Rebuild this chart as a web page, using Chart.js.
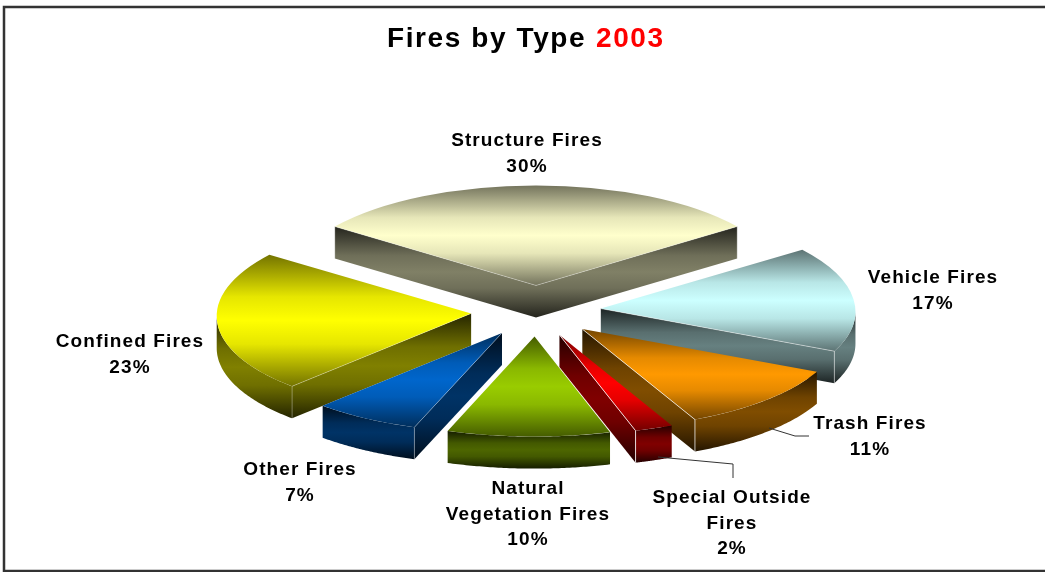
<!DOCTYPE html>
<html>
<head>
<meta charset="utf-8">
<title>Fires by Type 2003</title>
<script src="https://cdn.jsdelivr.net/npm/chart.js@4"></script>
<style>
  html, body { margin: 0; padding: 0; background: #fff; }
  #wrap { position: relative; width: 1045px; height: 572px; overflow: hidden; }
</style>
</head>
<body>
<div id="wrap"><canvas id="myChart" width="1045" height="572"></canvas></div>
<script>
const categories = ['Structure Fires', 'Vehicle Fires', 'Trash Fires', 'Special Outside Fires', 'Natural Vegetation Fires', 'Other Fires', 'Confined Fires'];
const shares = [30, 17, 11, 2.36, 10, 6.64, 23];
const sliceColors = ['#FFFFCC', '#CCFFFF', '#FF9900', '#FF0000', '#99CC00', '#0066CC', '#FFFF00'];
const edgeAlpha = [0.3, 0.45, 0.7, 0.8, 0, 0.3, 0.3];
const labelLines = [
    ['Structure Fires'],
    ['Vehicle Fires'],
    ['Trash Fires'],
    ['Special Outside', 'Fires'],
    ['Natural', 'Vegetation Fires'],
    ['Other Fires'],
    ['Confined Fires']
];
// centre x and first baseline of every label
const labelAnchors = [[527, 146], [933, 283], [870, 429], [732, 503], [528, 494], [300, 475], [130, 347]];
const leaderLines = [
    [[769, 428], [795, 436], [809, 436]],
    [[658, 457], [733, 464], [733, 478]]
];

// pie geometry
const cx = 536, cy = 311, radius = 250, tilt = 0.4, depth = 32, explode = 64;
const lineGap = 25.5;

// flat pie coordinates to screen, nearer things a little wider
function project(x, y) {
    return [cx + x * (1.018 + 0.00011 * y), cy + y * tilt];
}

// one slice as an affine map: goes through its tip and both outer corners
function sliceGeom(i) {
    const before = shares.slice(0, i).reduce((s, v) => s + v, 0);
    const a0 = (before / 100) * 2 * Math.PI - 0.8 * Math.PI;
    const a1 = a0 + (shares[i] / 100) * 2 * Math.PI;
    const mid = (a0 + a1) / 2;
    const ex = Math.cos(mid) * explode, ey = Math.sin(mid) * explode;
    const tip = project(ex, ey);
    const c0 = project(ex + radius * Math.cos(a0), ey + radius * Math.sin(a0));
    const c1 = project(ex + radius * Math.cos(a1), ey + radius * Math.sin(a1));
    const v0 = [c0[0] - tip[0], c0[1] - tip[1]], v1 = [c1[0] - tip[0], c1[1] - tip[1]];
    const u0 = [Math.cos(a0), Math.sin(a0)], u1 = [Math.cos(a1), Math.sin(a1)];
    const det = u0[0] * u1[1] - u1[0] * u0[1];
    const a = (v0[0] * u1[1] - v1[0] * u0[1]) / det;
    const c = (v1[0] * u0[0] - v0[0] * u1[0]) / det;
    const b = (v0[1] * u1[1] - v1[1] * u0[1]) / det;
    const d = (v1[1] * u0[0] - v0[1] * u1[0]) / det;
    const pt = t => [tip[0] + a * Math.cos(t) + c * Math.sin(t), tip[1] + b * Math.cos(t) + d * Math.sin(t)];
    return { a0, a1, tip, a, b, c, d, pt };
}

function shade(hex, f) {
    const n = parseInt(hex.slice(1), 16);
    return `rgb(${Math.round((n >> 16) * f)}, ${Math.round(((n >> 8) & 255) * f)}, ${Math.round((n & 255) * f)})`;
}

function addStops(g, color, edge, mid) {
    const knee = edge + (mid - edge) * 0.82;
    g.addColorStop(0, shade(color, edge));
    g.addColorStop(0.32, shade(color, knee));
    g.addColorStop(0.5, shade(color, mid));
    g.addColorStop(0.68, shade(color, knee));
    g.addColorStop(1, shade(color, edge));
    return g;
}

function wallGradient(ctx, y0, y1, color) {
    return addStops(ctx.createLinearGradient(0, y0, 0, y1), color, 0.14, 0.5);
}

function fillPoly(ctx, pts, fill) {
    ctx.beginPath();
    pts.forEach((p, i) => i ? ctx.lineTo(p[0], p[1]) : ctx.moveTo(p[0], p[1]));
    ctx.closePath();
    ctx.fillStyle = fill;
    ctx.fill();
}

function drawWalls(ctx, g, color) {
    const radialWall = t => {
        const p = g.pt(t);
        const fill = wallGradient(ctx, Math.min(g.tip[1], p[1]), Math.max(g.tip[1], p[1]) + depth, color);
        fillPoly(ctx, [g.tip, p, [p[0], p[1] + depth], [g.tip[0], g.tip[1] + depth]], fill);
    };
    if (Math.cos(g.a0) < 0) radialWall(g.a0);
    if (Math.cos(g.a1) > 0) radialWall(g.a1);

    // outer rim, only the part that faces the viewer
    const t0 = Math.atan2(g.c, g.a);
    const lo = Math.max(g.a0, t0), hi = Math.min(g.a1, t0 + Math.PI);
    if (hi > lo) {
        const top = [];
        for (let n = 0; n <= 60; n++) top.push(g.pt(lo + (hi - lo) * n / 60));
        const ys = top.map(p => p[1]);
        const bottom = top.slice().reverse().map(p => [p[0], p[1] + depth]);
        fillPoly(ctx, top.concat(bottom), wallGradient(ctx, Math.min(...ys), Math.max(...ys) + depth, color));
    }
}

function drawEdges(ctx, g, alpha) {
    if (!alpha) return;
    ctx.strokeStyle = `rgba(255, 255, 255, ${alpha})`;
    ctx.lineWidth = 1;
    [[g.a0, Math.cos(g.a0) < 0], [g.a1, Math.cos(g.a1) > 0]].forEach(([t, front]) => {
        if (!front) return;
        const p = g.pt(t);
        ctx.beginPath();
        ctx.moveTo(g.tip[0], g.tip[1]);
        ctx.lineTo(p[0], p[1]);
        ctx.lineTo(p[0], p[1] + depth);
        ctx.stroke();
    });
}

const pie3d = {
    id: 'pie3d',
    beforeDatasetsDraw(chart) {
        const ctx = chart.ctx;
        const arcs = chart.getDatasetMeta(0).data;
        const order = arcs.map((a, i) => i).sort((i, j) =>
            Math.sin((arcs[i].startAngle + arcs[i].endAngle) / 2) - Math.sin((arcs[j].startAngle + arcs[j].endAngle) / 2));
        order.forEach(i => {
            const g = sliceGeom(i);
            drawWalls(ctx, g, sliceColors[i]);
            ctx.save();
            ctx.translate(g.tip[0], g.tip[1]);
            ctx.transform(g.a / radius, g.b / radius, g.c / radius, g.d / radius, 0, 0);
            ctx.translate(-cx, -cy);
            arcs[i].draw(ctx);
            ctx.restore();
            drawEdges(ctx, g, edgeAlpha[i]);
        });
        return false;
    },
    afterDraw(chart) {
        const ctx = chart.ctx;
        ctx.save();

        // frame, open on the right
        ctx.strokeStyle = '#333';
        ctx.lineWidth = 2.5;
        ctx.beginPath();
        ctx.moveTo(1046, 7);
        ctx.lineTo(4, 7);
        ctx.lineTo(4, 571);
        ctx.lineTo(1046, 571);
        ctx.stroke();

        // leader lines
        ctx.lineWidth = 1;
        leaderLines.forEach(line => {
            ctx.beginPath();
            line.forEach((p, i) => i ? ctx.lineTo(p[0], p[1]) : ctx.moveTo(p[0], p[1]));
            ctx.stroke();
        });

        // title
        ctx.textBaseline = 'alphabetic';
        ctx.textAlign = 'left';
        ctx.font = 'bold 28px "Liberation Sans"';
        ctx.letterSpacing = '1.6px';
        ctx.fillStyle = '#000';
        ctx.fillText('Fires by Type', 387, 47);
        ctx.fillStyle = '#FF0000';
        ctx.fillText('2003', 596, 47);

        // slice labels
        ctx.textAlign = 'center';
        ctx.font = 'bold 19px "Liberation Sans"';
        ctx.letterSpacing = '1.1px';
        ctx.fillStyle = '#000';
        categories.forEach((name, i) => {
            const lines = labelLines[i].concat(Math.round(shares[i]) + '%');
            lines.forEach((t, n) => ctx.fillText(t, labelAnchors[i][0], labelAnchors[i][1] + n * lineGap));
        });
        ctx.restore();
    }
};

// top face gradient, level on screen even though the slice is sheared
function topFace(c) {
    const i = c.dataIndex;
    const g = sliceGeom(i);
    const ys = [g.tip[1], g.pt(g.a0)[1], g.pt(g.a1)[1]];
    const ext = Math.atan2(g.d, g.b);
    [ext, ext - Math.PI, ext + Math.PI].forEach(t => {
        if (t > g.a0 && t < g.a1) ys.push(g.pt(t)[1]);
    });
    const bx = g.b / radius, dy = g.d / radius, len = bx * bx + dy * dy;
    const t0 = (Math.min(...ys) - g.tip[1]) / len, t1 = (Math.max(...ys) - g.tip[1]) / len;
    const grad = c.chart.ctx.createLinearGradient(cx + bx * t0, cy + dy * t0, cx + bx * t1, cy + dy * t1);
    return addStops(grad, sliceColors[i], 0.45, 1);
}

new Chart(document.getElementById('myChart'), {
    type: 'pie',
    data: {
        labels: categories,
        datasets: [{
            data: shares,
            backgroundColor: topFace,
            borderWidth: 0
        }]
    },
    options: {
        responsive: false,
        animation: false,
        rotation: -54,
        radius: radius,
        layout: { padding: { left: 27, top: 50 } },
        plugins: {
            legend: { display: false },
            tooltip: { enabled: false }
        }
    },
    plugins: [pie3d]
});
</script>
</body>
</html>
